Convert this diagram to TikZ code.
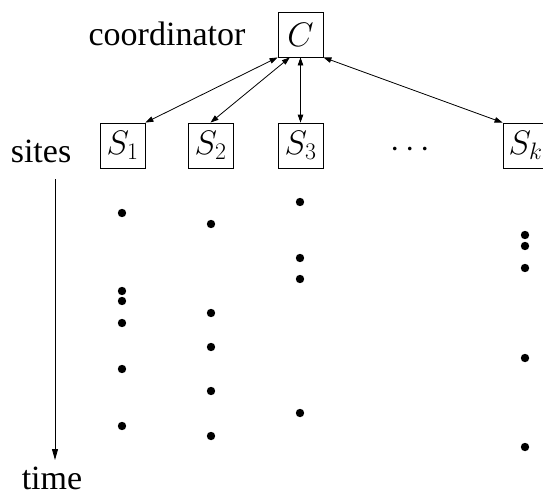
\RequirePackage{fix-cm}
\documentclass[tikz,border=0pt]{standalone}
\usepackage{fontspec}
\setmainfont{Liberation Serif}
\usetikzlibrary{arrows.meta}

\begin{document}
\begin{tikzpicture}[x=1pt, y=-1pt, >={Triangle[length=8pt, width=5.5pt]},
  font=\fontsize{34}{40}\selectfont,
  site/.style={draw, line width=0.8pt, minimum width=45pt, minimum height=45pt, inner sep=0pt},
  msg/.style={<->, line width=0.8pt}]
  \useasboundingbox (0,0) rectangle (543,495);

  % coordinator on top
  \node[site] (c) at (300.5,34.5) {$C$};
  \node[anchor=base] (coordlabel) at (167,46) {coordinator};

  % the sites
  \node[anchor=base] (siteslabel) at (41,162) {sites};
  \node[site] (s1) at (122.5,145.5) {$S_1$};
  \node[site] (s2) at (210.5,145.5) {$S_2$};
  \node[site] (s3) at (300.5,145.5) {$S_3$};
  \node[anchor=base] (more) at (410,157) {$\cdots$};
  \node[site] (sk) at (525.5,145.5) {$S_k$};

  \draw[msg] (s1.north east) -- (c.south west);
  \draw[msg] (s2.north) -- (c.-115);
  \draw[msg] (s3.north) -- (c.south);
  \draw[msg] (sk.north west) -- (c.south east);

  % time axis
  \coordinate (t0) at (55,179);
  \coordinate (t1) at (55,460);
  \draw[->, >={Triangle[length=11pt, width=6pt]}, line width=0.8pt] (t0) -- (t1);
  \node[anchor=base, inner sep=0pt] (timelabel) at (52,489) {time};

  % arrivals at each site
  \foreach \x/\ys in {122/{213,291,301,323,369,426},
                      211/{224,313,347,391,436},
                      300/{202,258,279,413},
                      525/{235,246,268,358,447}}
    \foreach \y in \ys
      \fill (\x,\y) circle (4.2);
\end{tikzpicture}
\end{document}
